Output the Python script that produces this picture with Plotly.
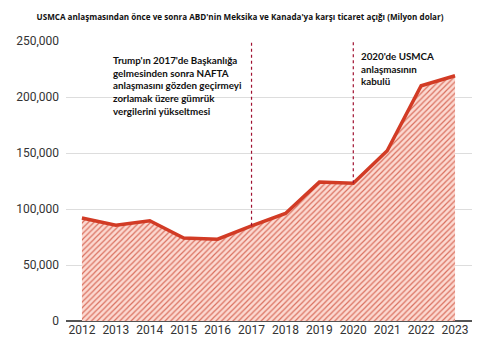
import plotly.graph_objects as go

years = [2012, 2013, 2014, 2015, 2016, 2017, 2018, 2019, 2020, 2021, 2022, 2023]
deficit = [92000, 85500, 89500, 74000, 73000, 85000, 96000, 124000, 123000, 152000, 210000, 219000]
marker_years = [2017, 2020]
yticks = [0, 50000, 100000, 150000, 200000, 250000]

title = "USMCA anlaşmasından önce ve sonra ABD'nin Meksika ve Kanada'ya karşı ticaret açığı (Milyon dolar)"
note1 = "<b>Trump'ın 2017'de Başkanlığa<br>gelmesinden sonra NAFTA<br>anlaşmasını gözden geçirmeyi<br>zorlamak üzere gümrük<br>vergilerini yükseltmesi</b>"
note2 = "<b>2020'de USMCA<br>anlaşmasının<br>kabulü</b>"

fig = go.Figure()
fig.add_trace(go.Scatter(
    x=years, y=deficit, mode="lines",
    line=dict(color="#d23b25", width=3.5),
    fill="tozeroy",
    fillpattern=dict(shape="/", fgcolor="#d9705f", bgcolor="#fcd9d1", size=4, solidity=0.3, fillmode="replace"),
    hoverinfo="skip",
))

for yr in marker_years:
    v = deficit[years.index(yr)]
    fig.add_shape(type="line", x0=yr, x1=yr, y0=v, y1=250000, xref="x", yref="y",
                  line=dict(color="#a01030", width=1.2, dash="dot"), layer="above")

fig.add_annotation(x=2012.87, y=240000, xref="x", yref="y", text=note1, showarrow=False,
                   xanchor="left", yanchor="top", align="left",
                   font=dict(family="Lato", size=9.8, color="#111"))
fig.add_annotation(x=2020.18, y=243500, xref="x", yref="y", text=note2, showarrow=False,
                   xanchor="left", yanchor="top", align="left",
                   font=dict(family="Lato", size=9.8, color="#111"))

fig.update_layout(
    width=480, height=349,
    margin=dict(l=66, r=8, t=41, b=28),
    paper_bgcolor="white", plot_bgcolor="white",
    showlegend=False,
    title=dict(text="<b>" + title + "</b>", x=0.5, xanchor="center", y=0.952, yanchor="middle",
               font=dict(family="Open Sans", size=8.1, color="#111")),
    font=dict(family="Roboto", size=12, color="#333"),
)
fig.update_xaxes(range=[2011.53, 2023.5], tickmode="array", tickvals=years,
                 ticktext=[str(y) for y in years], showgrid=False, zeroline=False,
                 showline=False, ticks="", tickfont=dict(size=12, color="#333"))
fig.update_yaxes(range=[0, 250000], tickmode="array", tickvals=yticks,
                 ticktext=[f"{v:,}" for v in yticks], showgrid=True, gridcolor="#dddddd",
                 gridwidth=1, zeroline=True, zerolinecolor="#555", zerolinewidth=1.5,
                 showline=False, ticks="", ticklabelstandoff=6,
                 tickfont=dict(size=12, color="#333"))

fig.write_html("out.html")
